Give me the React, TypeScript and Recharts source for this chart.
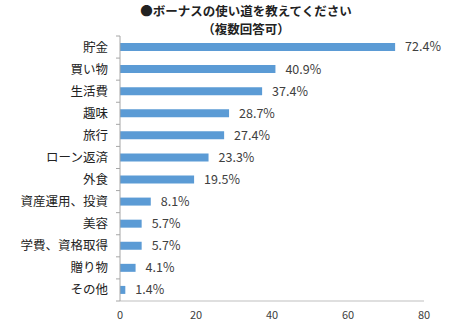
import React from "react";
import { BarChart, Bar, XAxis, YAxis, LabelList } from "recharts";

const categories = ["貯金", "買い物", "生活費", "趣味", "旅行", "ローン返済", "外食", "資産運用、投資", "美容", "学費、資格取得", "贈り物", "その他"];
const values = [72.4, 40.9, 37.4, 28.7, 27.4, 23.3, 19.5, 8.1, 5.7, 5.7, 4.1, 1.4];
const xTicks = [0, 20, 40, 60, 80];
const titleLine1 = "●ボーナスの使い道を教えてください";
const titleLine2 = "（複数回答可）";

const data = categories.map((c, i) => ({ name: c, value: values[i] }));

const W = 450;
const H = 332;
const M = { top: 36, right: 26, bottom: 11, left: 0 };
const Y_W = 120;
const X_H = 20;
const plotH = H - M.top - M.bottom - X_H;
const band = plotH / categories.length;
const FONT = "'Noto Sans CJK JP', 'Noto Sans', sans-serif";

const CatTick = (props: any) => {
  const { x, y, payload, index } = props;
  const ax = x + 8;
  return (
    <g>
      <line x1={ax - 4} x2={ax} y1={y + band / 2} y2={y + band / 2} stroke="#a6a6a6" />
      {index === 0 && <line x1={ax - 4} x2={ax} y1={y - band / 2} y2={y - band / 2} stroke="#a6a6a6" />}
      <text x={ax - 12} y={y} dy="0.36em" textAnchor="end" fontSize={12.5} fill="#222" fontFamily={FONT}>
        {payload.value}
      </text>
    </g>
  );
};

export default function App() {
  return (
    <div style={{ position: "absolute", left: 0, top: 0, width: W, height: H, background: "#fff" }}>
      <div style={{ position: "absolute", left: 0, top: 2, width: W, textAlign: "center", paddingLeft: 42, boxSizing: "border-box", fontFamily: FONT, fontWeight: "bold", fontSize: 12.5, lineHeight: "18px", color: "#222" }}>
        <div style={{ height: 18 }}>{titleLine1}</div>
        <div style={{ height: 18 }}>{titleLine2}</div>
      </div>
      <BarChart width={W} height={H} data={data} layout="vertical" margin={M} style={{ position: "absolute", left: 0, top: 0 }}>
        <XAxis
          type="number"
          domain={[0, 80]}
          ticks={xTicks}
          height={X_H}
          tickLine={false}
          axisLine={{ stroke: "#bfbfbf" }}
          tickSize={0}
          tickMargin={10}
          tick={{ fontSize: 11, fill: "#404040", fontFamily: FONT }}
        />
        <YAxis
          type="category"
          dataKey="name"
          width={Y_W}
          tickLine={false}
          axisLine={{ stroke: "#a6a6a6" }}
          tick={<CatTick />}
          interval={0}
        />
        <Bar dataKey="value" fill="#5b9bd5" barSize={8} isAnimationActive={false}>
          <LabelList
            dataKey="value"
            position="right"
            offset={10}
            formatter={(v: any) => `${v}%`}
            style={{ fontSize: 12.5, fill: "#404040", fontFamily: FONT }}
          />
        </Bar>
      </BarChart>
    </div>
  );
}
